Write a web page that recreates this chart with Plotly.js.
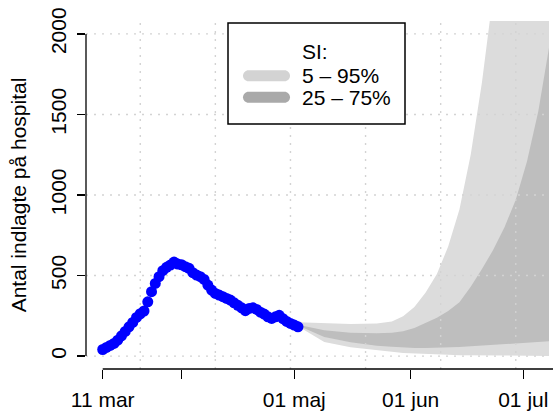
<!DOCTYPE html>
<html>
<head>
<meta charset="utf-8">
<script src="https://cdn.plot.ly/plotly-3.0.1.min.js"></script>
<style>html,body{margin:0;padding:0;background:#fff;}#chart{width:553px;height:416px;}</style>
</head>
<body>
<div id="chart"></div>
<script>
// ---- data ----
const obsStart = '2020-03-11';
const observed = [41, 54, 66, 79, 99, 126, 153, 182, 209, 240, 263, 280, 337, 400, 451, 493, 530, 551, 565, 584,
  571, 567, 555, 545, 518, 503, 493, 476, 441, 410, 389, 379, 369, 358, 348, 331, 315, 300, 282, 296,
  300, 290, 273, 261, 244, 234, 244, 253, 232, 215, 203, 193, 182];

const bandDates = ['2020-05-02','2020-05-09','2020-05-16','2020-05-23','2020-05-27','2020-05-30','2020-06-02',
  '2020-06-05','2020-06-08','2020-06-11','2020-06-14','2020-06-17','2020-06-20','2020-06-23','2020-06-26',
  '2020-06-29','2020-07-02','2020-07-05','2020-07-08','2020-07-11'];
const p05 = [185, 87, 55, 35, 27, 20, 16, 12, 10, 8, 6, 5, 4, 3, 2, 2, 1, 1, 0, 0];
const p25 = [190, 118, 86, 65, 58, 53, 51, 50, 51, 53, 56, 61, 65, 69, 73, 78, 82, 87, 92, 97];
const p75 = [195, 160, 145, 142, 145, 155, 175, 205, 238, 280, 335, 430, 540, 660, 800, 970, 1210, 1520, 1920, 2350];
const p95 = [210, 205, 200, 203, 215, 248, 305, 395, 510, 680, 910, 1250, 1700, 2250, 2900, 3600, 4400, 5300, 6300, 7400];

const xTickVals = ['2020-03-11', '2020-04-01', '2020-05-01', '2020-06-01', '2020-07-01'];
const xTickText = ['11 mar', '', '01 maj', '01 jun', '01 jul'];
const yTickVals = [0, 500, 1000, 1500, 2000];
const yTickText = ['0', '500', '1000', '1500', '2000'];
const gridDates = ['2020-03-21', '2020-04-10', '2020-04-30', '2020-05-20', '2020-06-09', '2020-06-29'];
const legendTitle = 'SI:';
const legendLabels = ['5 – 95%', '25 – 75%'];

// ---- helpers ----
const DAY = 86400000;
const t0 = Date.parse(obsStart + 'T00:00:00Z');
function dayToDate(d) { return new Date(t0 + d * DAY).toISOString().slice(0, 19).replace('T', ' '); }
const obsDates = observed.map((_, i) => dayToDate(i).slice(0, 10));

const xRangeDays = [-4.45, 118.85];
const xRange = xRangeDays.map(dayToDate);
const yRange = [-80, 2080];

const FONT = 'Liberation Sans, Arial, Helvetica, sans-serif';
const FS = 21;
const cLight = '#dcdcdc', cDark = '#bebebe';
const keyLight = '#d3d3d3', keyDark = '#a9a9a9';

// grid as traces so it sits above bands but below points
const gx = [], gy = [];
gridDates.forEach(d => { gx.push(d, d, null); gy.push(yRange[0], yRange[1], null); });
yTickVals.forEach(v => { gx.push(xRange[0], xRange[1], null); gy.push(v, v, null); });

const traces = [
  {x: bandDates, y: p05, mode: 'lines', line: {width: 0, color: cLight}, hoverinfo: 'skip'},
  {x: bandDates, y: p95, mode: 'lines', fill: 'tonexty', fillcolor: cLight, line: {width: 0, color: cLight}, hoverinfo: 'skip'},
  {x: bandDates, y: p25, mode: 'lines', line: {width: 0, color: cDark}, hoverinfo: 'skip'},
  {x: bandDates, y: p75, mode: 'lines', fill: 'tonexty', fillcolor: cDark, line: {width: 0, color: cDark}, hoverinfo: 'skip'},
  {x: gx, y: gy, mode: 'lines', line: {color: '#d3d3d3', width: 1.4, dash: '2px,6px'}, hoverinfo: 'skip', connectgaps: false},
  {x: obsDates, y: observed, mode: 'markers', marker: {color: '#0000ff', size: 11, line: {width: 0}}}
];

// legend box (paper coords of plot area 86..549 x 21..369)
const PL = 86, PR = 549, PT = 21, PB = 369;
const px = x => (x - PL) / (PR - PL);
const py = y => (PB - y) / (PB - PT);
const pill = 'M-18,-5.5 L18,-5.5 C21,-5.5 23.5,-3 23.5,0 C23.5,3 21,5.5 18,5.5 L-18,5.5 C-21,5.5 -23.5,3 -23.5,0 C-23.5,-3 -21,-5.5 -18,-5.5 Z';
const mar11Frac = (0 - xRangeDays[0]) / (xRangeDays[1] - xRangeDays[0]);

const shapes = [
  {type: 'line', xref: 'paper', yref: 'y', x0: 0, x1: 0, y0: yTickVals[0], y1: yTickVals[yTickVals.length - 1], line: {color: '#000', width: 1.3}, layer: 'above'},
  {type: 'line', xref: 'paper', yref: 'paper', x0: mar11Frac, x1: 1.02, y0: 0, y1: 0, line: {color: '#000', width: 1.3}, layer: 'above'},
  {type: 'rect', xref: 'paper', yref: 'paper', x0: px(228), x1: px(405), y0: py(124), y1: py(23), fillcolor: '#fff', line: {color: '#000', width: 1.5}, layer: 'above'},
  {type: 'path', xref: 'paper', yref: 'paper', xsizemode: 'pixel', ysizemode: 'pixel', xanchor: px(266.5), yanchor: py(75.7), path: pill, fillcolor: keyLight, line: {width: 0}, layer: 'above'},
  {type: 'path', xref: 'paper', yref: 'paper', xsizemode: 'pixel', ysizemode: 'pixel', xanchor: px(266.5), yanchor: py(97.3), path: pill, fillcolor: keyDark, line: {width: 0}, layer: 'above'}
];

const annotations = [
  {xref: 'paper', yref: 'paper', x: px(300), y: py(52), xanchor: 'left', yanchor: 'middle', text: legendTitle, showarrow: false, font: {family: FONT, size: FS, color: '#000'}},
  {xref: 'paper', yref: 'paper', x: px(300), y: py(75.7), xanchor: 'left', yanchor: 'middle', text: legendLabels[0], showarrow: false, font: {family: FONT, size: FS, color: '#000'}},
  {xref: 'paper', yref: 'paper', x: px(300), y: py(97.3), xanchor: 'left', yanchor: 'middle', text: legendLabels[1], showarrow: false, font: {family: FONT, size: FS, color: '#000'}}
];

const layout = {
  width: 553, height: 416,
  margin: {l: PL, r: 553 - PR, t: PT, b: 416 - PB, pad: 0},
  paper_bgcolor: '#fff', plot_bgcolor: '#fff',
  showlegend: false,
  font: {family: FONT, size: FS, color: '#000'},
  xaxis: {
    type: 'date', range: xRange, tickmode: 'array', tickvals: xTickVals, ticktext: xTickText,
    ticks: 'outside', ticklen: 9, tickwidth: 1.3, tickcolor: '#000',
    showgrid: false, zeroline: false, showline: false, fixedrange: true,
    tickfont: {family: FONT, size: FS, color: '#000'}, ticklabelstandoff: 3
  },
  yaxis: {
    range: yRange, tickmode: 'array', tickvals: yTickVals, ticktext: yTickText, tickangle: -90,
    ticks: 'outside', ticklen: 8, tickwidth: 1.3, tickcolor: '#000',
    showgrid: false, zeroline: false, showline: false, fixedrange: true,
    tickfont: {family: FONT, size: FS, color: '#000'}, ticklabelstandoff: 3,
    title: {text: 'Antal indlagte på hospital', font: {family: FONT, size: FS, color: '#000'}, standoff: 14}
  },
  shapes: shapes,
  annotations: annotations
};

Plotly.newPlot('chart', traces, layout, {displayModeBar: false, staticPlot: true});
</script>
</body>
</html>
